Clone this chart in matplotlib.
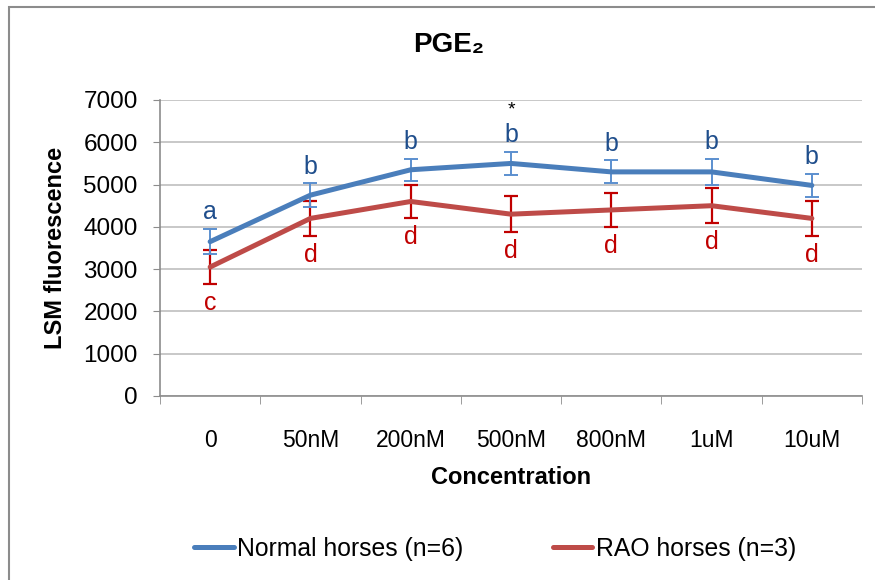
import matplotlib
matplotlib.use("Agg")
import matplotlib.pyplot as plt
from matplotlib.patches import Rectangle

plt.rcParams['font.family'] = ['Liberation Sans', 'DejaVu Sans']

categories = ["0", "50nM", "200nM", "500nM", "800nM", "1uM", "10uM"]
normal_vals = [3650, 4750, 5350, 5500, 5300, 5300, 4980]
normal_err = [300, 280, 260, 280, 270, 300, 270]
rao_vals = [3050, 4200, 4600, 4300, 4400, 4500, 4200]
rao_err = [410, 420, 400, 420, 400, 420, 420]
normal_letters = ["a", "b", "b", "b", "b", "b", "b"]
rao_letters = ["c", "d", "d", "d", "d", "d", "d"]
star_flags = [False, False, False, True, False, False, False]
yticks = [0, 1000, 2000, 3000, 4000, 5000, 6000, 7000]

blue = "#4A7EBB"
blue_err = "#5B8FCF"
blue_txt = "#1F4E8C"
red = "#BE4B48"
red_err = "#C00000"
red_txt = "#C00000"

fig = plt.figure(figsize=(8.75, 5.8), dpi=100)
fig.patches.append(Rectangle((9/875, -0.1), 2, 1.1 - 7/580, transform=fig.transFigure,
                             fill=False, edgecolor="#8C8C8C", linewidth=1.5))
ax = fig.add_axes([160/875, 1 - 396/580, (862 - 160)/875, (396 - 100)/580])

x = list(range(len(categories)))
ax.errorbar(x, rao_vals, yerr=rao_err, fmt="none", ecolor=red_err, elinewidth=1.6,
            capsize=5, capthick=1.6, zorder=3)
ax.plot(x, rao_vals, color=red, linewidth=3.6, solid_capstyle="round", zorder=3,
        label="RAO horses (n=3)")
ax.errorbar(x, normal_vals, yerr=normal_err, fmt="none", ecolor=blue_err, elinewidth=1.4,
            capsize=5, capthick=1.4, zorder=4)
ax.plot(x, normal_vals, color=blue, linewidth=3.6, solid_capstyle="round", zorder=4,
        label="Normal horses (n=6)")

for i in x:
    ax.annotate(normal_letters[i], (i, normal_vals[i] + normal_err[i]), xytext=(0, 7),
                textcoords="offset points", ha="center", va="baseline",
                fontsize=18, color=blue_txt)
    ax.annotate(rao_letters[i], (i, rao_vals[i] - rao_err[i]), xytext=(0, -5),
                textcoords="offset points", ha="center", va="top",
                fontsize=18, color=red_txt)
    if star_flags[i]:
        ax.annotate("*", (i, normal_vals[i] + normal_err[i]), xytext=(0, 26.8),
                    textcoords="offset points", ha="center", va="baseline",
                    fontsize=14, color="black")

ax.set_xlim(-0.5, len(categories) - 0.5)
ax.set_ylim(0, 7000)
ax.set_yticks(yticks)
ax.set_yticklabels([str(v) for v in yticks], fontsize=17.5)
ax.set_xticks(x)
ax.set_xticklabels(categories, fontsize=16.5)
ax.set_xticks([i - 0.5 for i in range(len(categories) + 1)], minor=True)
ax.tick_params(axis="x", which="major", length=0, pad=24)
ax.tick_params(axis="x", which="minor", length=6, color="#8C8C8C")
ax.tick_params(axis="y", length=5, color="#8C8C8C", pad=11)
ax.grid(axis="y", color="#BFBFBF", linewidth=1.2)
ax.set_axisbelow(True)
for s in ["top", "right"]:
    ax.spines[s].set_visible(False)
for s in ["left", "bottom"]:
    ax.spines[s].set_color("#8C8C8C")
    ax.spines[s].set_linewidth(1.2)

ax.set_ylabel("LSM fluorescence", fontsize=17, fontweight="bold", labelpad=12)
ax.set_xlabel("Concentration", fontsize=17, fontweight="bold", labelpad=10)
fig.text(449/875, 1 - 45/580, "PGE₂", ha="center", va="center", fontsize=20,
         fontweight="bold")

handles, labels = ax.get_legend_handles_labels()
leg = fig.legend(handles[::-1], labels[::-1], loc="center", bbox_to_anchor=(495/875, 1 - 549/580),
                 ncol=2, frameon=False, fontsize=17.8, handlelength=1.6, handletextpad=0.15,
                 columnspacing=3.6)

fig.savefig("out.png", dpi=100)
